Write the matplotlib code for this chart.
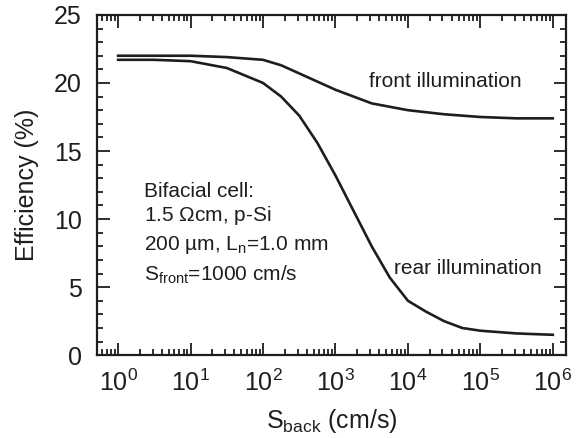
import numpy as np
import matplotlib
matplotlib.use("Agg")
import matplotlib.pyplot as plt
from matplotlib.ticker import LogLocator, MultipleLocator, NullFormatter, FixedLocator

plt.rcParams['font.family'] = ['Liberation Sans', 'DejaVu Sans']
plt.rcParams['mathtext.fontset'] = 'custom'
plt.rcParams['mathtext.rm'] = 'Liberation Sans'
plt.rcParams['mathtext.it'] = 'Liberation Sans'

# Donnees (log10 de S_back, rendement en %)
log_s_front = [0, 0.5, 1, 1.5, 2, 2.25, 2.5, 2.75, 3, 3.25, 3.5, 4, 4.5, 5, 5.5, 6]
eff_front = [22.0, 22.0, 22.0, 21.9, 21.7, 21.3, 20.7, 20.1, 19.5, 19.0, 18.5, 18.0, 17.7, 17.5, 17.4, 17.4]

log_s_rear = [0, 0.5, 1, 1.5, 2, 2.25, 2.5, 2.75, 3, 3.25, 3.5, 3.75, 4, 4.25, 4.5, 4.75, 5, 5.5, 6]
eff_rear = [21.7, 21.7, 21.6, 21.1, 20.0, 19.0, 17.6, 15.6, 13.2, 10.6, 8.0, 5.7, 4.0, 3.2, 2.5, 2.0, 1.8, 1.6, 1.5]

# ticks majeurs de l'axe x (exposants)
x_exposants = [0, 1, 2, 3, 4, 5, 6]

s_front = 10.0 ** np.array(log_s_front)
s_rear = 10.0 ** np.array(log_s_rear)

infos = ["Bifacial cell:", r"1.5 $\Omega$cm, p-Si", r"200 µm, L$_\mathregular{n}$=1.0 mm",
         r"S$_\mathregular{front}$=1000 cm/s"]

ink = "#1e1e1e"

fig = plt.figure(figsize=(5.78, 4.38), dpi=100)
ax = fig.add_axes([0.168, 0.189, 0.811, 0.777])

ax.plot(s_front, eff_front, color=ink, lw=1.9)
ax.plot(s_rear, eff_rear, color=ink, lw=1.9)

ax.set_xscale("log")
ax.set_xlim(10 ** -0.29, 10 ** 6.18)
ax.set_ylim(0, 25)
ax.xaxis.set_major_locator(FixedLocator(10.0 ** np.array(x_exposants)))
ax.set_xticklabels([r"$\mathregular{10^{%d}}$" % e for e in x_exposants])
ax.xaxis.set_minor_locator(LogLocator(base=10, subs=np.arange(2, 10), numticks=20))
ax.xaxis.set_minor_formatter(NullFormatter())
ax.yaxis.set_major_locator(MultipleLocator(5))
ax.yaxis.set_minor_locator(MultipleLocator(1))

ax.tick_params(which="both", direction="in", top=True, right=True, color=ink, width=1.3)
ax.tick_params(which="major", length=9)
ax.tick_params(which="minor", length=4)
ax.tick_params(axis="y", which="major", labelsize=18, pad=11, labelcolor=ink)
ax.tick_params(axis="x", which="major", labelsize=18, pad=10, labelcolor=ink)
for sp in ax.spines.values():
    sp.set_linewidth(1.6)
    sp.set_color(ink)

ax.set_ylabel("Efficiency (%)", fontsize=18, color=ink, labelpad=11)
ax.set_xlabel(r"S$_\mathregular{back}$ (cm/s)", fontsize=18, color=ink, labelpad=8)

ax.text(10 ** 3.46, 20.1, "front illumination", fontsize=15, color=ink, va="center")
ax.text(10 ** 3.81, 6.4, "rear illumination", fontsize=15, color=ink, va="center")
y_txt = [12.0, 10.3, 8.1, 5.9]
for t, yy in zip(infos, y_txt):
    ax.text(10 ** 0.36, yy, t, fontsize=15, color=ink, va="center")

fig.savefig("out.png", dpi=100)
